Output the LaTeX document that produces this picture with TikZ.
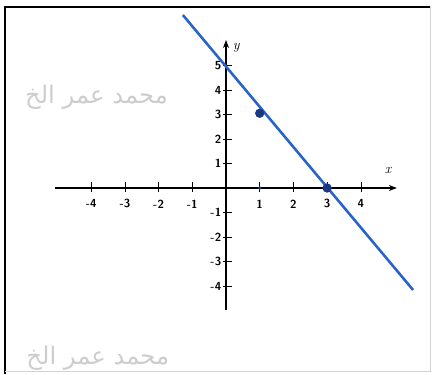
\documentclass[tikz,border=0pt]{standalone}
\usepackage{fontspec}
\newfontfamily\arabicfont[Script=Arabic]{DejaVu Sans}
\TeXXeTstate=1
\usetikzlibrary{arrows.meta}
\definecolor{lineblue}{RGB}{40,100,200}
\definecolor{dotblue}{RGB}{25,55,130}
\definecolor{wmgray}{RGB}{205,205,205}

\begin{document}
\begin{tikzpicture}[x=1.011cm,y=0.735cm,
  >={Stealth[length=2.4mm,width=1.8mm]},
  axisline/.style={line width=0.9pt,black},
  tickmark/.style={line width=0.5pt,black},
  tick lab/.style={font=\sffamily\bfseries,inner sep=1pt},
  axis lab/.style={font=\large\itshape,inner sep=1pt},
  graphline/.style={line width=2.2pt,lineblue},
  pt/.style={circle,fill=dotblue,minimum size=2.8mm,inner sep=0pt},
  smallpt/.style={circle,fill=dotblue,minimum size=1.1mm,inner sep=0pt},
  watermark/.style={font=\arabicfont\huge,text=wmgray,anchor=east,inner sep=0pt}
]
\useasboundingbox (-6.706,-7.592) rectangle (6.142,7.673);

% Watermarks (cut by the frame)
\node[watermark] (wm1) at (-1.72,3.71) {\beginR محمد عمر الخ\endR};
\node[watermark] (wm2) at (-1.68,-6.95) {\beginR محمد عمر الخ\endR};

% Frame
\draw[line width=1.4pt] (-6.56,-7.6) -- (-6.56,7.39) -- (6.05,7.39);
\draw[gray!35,line width=0.6pt] (6.05,7.39) -- (6.05,-7.48) -- (-6.56,-7.48);

% Axes
\coordinate (xstart) at (-5.07,0);
\coordinate (xend) at (5.07,0);
\coordinate (ystart) at (0,-4.98);
\coordinate (yend) at (0,6.04);
\draw[->,axisline] (xstart) -- (xend);
\draw[->,axisline] (ystart) -- (yend);
\node[axis lab] (xlab) at (4.81,0.73) {x};
\node[axis lab] (ylab) at (0.3,5.71) {y};

% Ticks on the x axis
\foreach \i in {-4,-3,-2,-1,1,2,3,4} {
  \draw[tickmark] (\i,-0.15) -- (\i,0.25);
  \node[tick lab] (xl\i) at (\i,-0.65) {\i};
}
% Ticks on the y axis
\foreach \j in {-4,-3,-2,-1,1,2,3,4,5} {
  \draw[tickmark] (-0.1,\j) -- (0.18,\j);
  \node[tick lab,anchor=east] (yl\j) at (-0.1,\j) {\j};
}

% The line through (1,3) and (3,0)
\coordinate (ltop) at (-1.28,7.06);
\coordinate (lbot) at (5.55,-4.16);
\draw[graphline] (ltop) -- (lbot);

% Points
\node[pt] (p1) at (1,3.05) {};
\node[pt] (p2) at (3,0) {};
\node[smallpt] (p0) at (1,0) {};

\end{tikzpicture}
\end{document}
